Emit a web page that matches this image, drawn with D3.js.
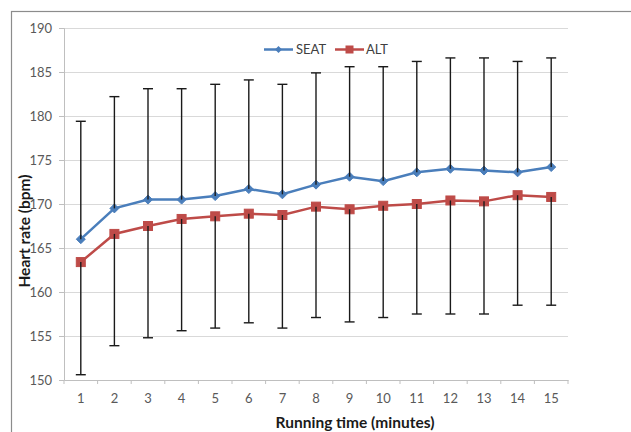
<!DOCTYPE html>
<html>
<head>
<meta charset="utf-8">
<script src="https://cdn.jsdelivr.net/npm/d3@7"></script>
<style>
html,body{margin:0;padding:0;background:#fff;}
svg{display:block;font-family:Lato,"Liberation Sans",sans-serif;}
</style>
</head>
<body>
<svg id="chart" width="631" height="432"></svg>
<script>
const minutes = [1,2,3,4,5,6,7,8,9,10,11,12,13,14,15];
const seat = [166.0,169.5,170.5,170.5,170.9,171.7,171.1,172.2,173.1,172.6,173.6,174.0,173.8,173.6,174.2];
const seatUpper = [179.4,182.2,183.1,183.1,183.6,184.1,183.6,184.9,185.6,185.6,186.2,186.6,186.6,186.2,186.6];
const alt = [163.4,166.6,167.5,168.3,168.6,168.9,168.75,169.7,169.4,169.8,170.0,170.4,170.3,171.0,170.8];
const altLower = [150.6,153.9,154.8,155.6,155.9,156.5,155.9,157.1,156.6,157.1,157.5,157.5,157.5,158.5,158.5];
const yTicks = [150,155,160,165,170,175,180,185,190];

const svg = d3.select("#chart");
const L = 64, R = 568, T = 28, B = 380;
const x = d3.scaleBand().domain(minutes).range([L, R]);
const y = d3.scaleLinear().domain([150, 190]).range([B, T]);
const cx = d => x(d) + x.bandwidth() / 2;

// outer frame
svg.append("rect").attr("x", 11.5).attr("y", 11.5).attr("width", 640).attr("height", 440)
  .attr("fill", "none").attr("stroke", "#8c8c8c").attr("stroke-width", 1.2);

// gridlines
svg.append("g").selectAll("line").data(yTicks.filter(t => t > 150)).join("line")
  .attr("x1", L).attr("x2", R).attr("y1", d => Math.round(y(d)) + 0.5).attr("y2", d => Math.round(y(d)) + 0.5)
  .attr("stroke", "#d9d9d9").attr("stroke-width", 1.2);

// y axis
const yAxis = svg.append("g").attr("transform", `translate(${L},0)`)
  .call(d3.axisLeft(y).tickValues(yTicks).tickSize(5).tickPadding(7));
yAxis.select(".domain").attr("stroke", "#bfbfbf");
yAxis.selectAll(".tick line").attr("stroke", "#bfbfbf");
yAxis.selectAll(".tick text").attr("fill", "#595959").style("font-size", "13px").style("font-family", "Lato,'Liberation Sans',sans-serif");

// x axis
const xAxis = svg.append("g").attr("transform", `translate(0,${B})`)
  .call(d3.axisBottom(x).tickSize(0).tickPadding(14));
xAxis.select(".domain").attr("stroke", "#bfbfbf");
xAxis.selectAll(".tick text").attr("fill", "#595959").style("font-size", "13px").style("font-family", "Lato,'Liberation Sans',sans-serif");
// category boundary ticks
const bounds = minutes.map(m => x(m)).concat([R]);
svg.append("g").selectAll("line").data(bounds).join("line")
  .attr("x1", d => d).attr("x2", d => d).attr("y1", B).attr("y2", B + 4)
  .attr("stroke", "#bfbfbf");

// series lines
const line = d3.line().x((d, i) => cx(minutes[i])).y(d => y(d));
svg.append("path").datum(seat).attr("d", line).attr("fill", "none").attr("stroke", "#4a7ebb").attr("stroke-width", 2.5);
svg.append("path").datum(alt).attr("d", line).attr("fill", "none").attr("stroke", "#be4b48").attr("stroke-width", 2.5);

// markers
svg.append("g").selectAll("path").data(seat).join("path")
  .attr("transform", (d, i) => `translate(${cx(minutes[i])},${y(d)})`)
  .attr("d", "M0,-4.5L4.5,0L0,4.5L-4.5,0Z").attr("fill", "#4a7ebb").attr("stroke", "#4a7ebb").attr("stroke-width", 1);
svg.append("g").selectAll("rect").data(alt).join("rect")
  .attr("x", (d, i) => cx(minutes[i]) - 4.5).attr("y", d => y(d) - 4.5)
  .attr("width", 9).attr("height", 9).attr("fill", "#be4b48").attr("stroke", "#be4b48");

// error bars
const eb = svg.append("g").attr("stroke", "#1a1a1a").attr("stroke-width", 1.4);
minutes.forEach((m, i) => {
  const px = cx(m);
  eb.append("line").attr("x1", px).attr("x2", px).attr("y1", y(seat[i])).attr("y2", y(seatUpper[i]));
  eb.append("line").attr("x1", px - 5).attr("x2", px + 5).attr("y1", y(seatUpper[i])).attr("y2", y(seatUpper[i]));
  eb.append("line").attr("x1", px).attr("x2", px).attr("y1", y(alt[i])).attr("y2", y(altLower[i]));
  eb.append("line").attr("x1", px - 5).attr("x2", px + 5).attr("y1", y(altLower[i])).attr("y2", y(altLower[i]));
});

// legend
const lg = svg.append("g").attr("transform", "translate(0,49.5)");
lg.append("line").attr("x1", 264).attr("x2", 293).attr("stroke", "#4a7ebb").attr("stroke-width", 2.5);
lg.append("path").attr("transform", "translate(278.5,0)").attr("d", "M0,-3.5L3.5,0L0,3.5L-3.5,0Z").attr("fill", "#4a7ebb");
lg.append("text").attr("x", 296).attr("y", 0).attr("dy", "0.35em").attr("fill", "#404040").style("font-size", "13px").text("SEAT");
lg.append("line").attr("x1", 335).attr("x2", 364).attr("stroke", "#be4b48").attr("stroke-width", 2.5);
lg.append("rect").attr("x", 345.5).attr("y", -4).attr("width", 8).attr("height", 8).attr("fill", "#be4b48");
lg.append("text").attr("x", 366).attr("y", 0).attr("dy", "0.35em").attr("fill", "#404040").style("font-size", "13px").text("ALT");

// axis titles
svg.append("text").attr("x", 355).attr("y", 423).attr("dy", "0.35em").attr("text-anchor", "middle")
  .attr("fill", "#1a1a1a").style("font-size", "15.5px").style("font-weight", "bold").text("Running time (minutes)");
svg.append("text").attr("transform", "translate(25,231) rotate(-90)").attr("dy", "0.35em").attr("text-anchor", "middle")
  .attr("fill", "#1a1a1a").style("font-size", "15.5px").style("font-weight", "bold").text("Heart rate (bpm)");
</script>
</body>
</html>
